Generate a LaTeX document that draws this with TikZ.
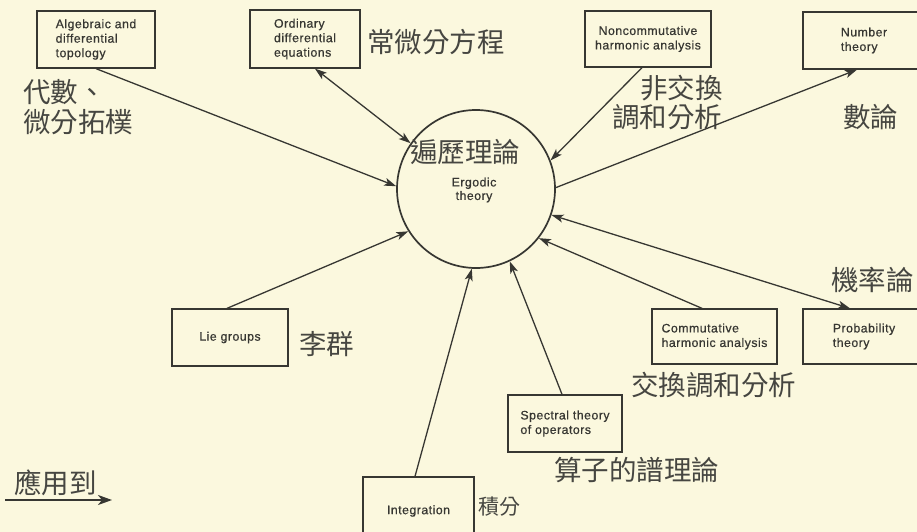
\documentclass[tikz,border=0pt]{standalone}
\usepackage{fontspec}
\setmainfont{Liberation Sans}[LetterSpace=4,FakeBold=0.6]
\newfontfamily\cjk{Noto Sans CJK TC}
\usetikzlibrary{arrows.meta,calc}
\definecolor{bgc}{RGB}{251,248,222}
\definecolor{ink}{RGB}{55,55,50}
\definecolor{cjkink}{RGB}{70,70,65}
\begin{document}
\begin{tikzpicture}[x=1pt,y=-1pt,
  box/.style={draw=ink, line width=1.3pt, inner sep=0pt, align=left, font=\fontsize{12.3}{14.5}\selectfont, text=ink},
  zh/.style={font=\cjk\fontsize{27.5}{30}\selectfont, text=cjkink, inner sep=0pt, anchor=west},
  tip/.tip={Stealth[length=12pt,width=8pt,inset=3pt]},
  arr/.style={draw=ink, line width=1.3pt, -tip},
  darr/.style={draw=ink, line width=1.3pt, tip-tip}]
\fill[bgc] (0,0) rectangle (917,532);
\clip (0,0) rectangle (917,532);
% centre
\node[circle, draw=ink, line width=1.7pt, minimum size=158pt, inner sep=0pt] (erg) at (476,189) {};
\node[zh] (ergzh) at (410,152) {遍歷理論};
\node[align=center, font=\fontsize{12.3}{13.5}\selectfont, text=ink] (ergen) at (474,190) {Ergodic\\theory};
% boxes
\node[box, minimum width=118pt, minimum height=57pt] (A) at (96,39.5) {Algebraic and\\differential\\topology};
\node[box, minimum width=110pt, minimum height=58pt] (B) at (305,39) {Ordinary\\differential\\equations};
\node[box, minimum width=126pt, minimum height=56pt, align=center] (C) at (648,39) {Noncommutative\\harmonic analysis};
\node[box, minimum width=122pt, minimum height=57pt] (D) at (864,40.5) {Number\\theory};
\node[box, minimum width=116pt, minimum height=57pt] (Lie) at (230,337.5) {Lie groups};
\node[box, minimum width=125pt, minimum height=55pt] (Comm) at (714.5,336.5) {Commutative\\harmonic analysis};
\node[box, minimum width=122pt, minimum height=55pt] (Prob) at (864,336.5) {Probability\\theory};
\node[box, minimum width=114pt, minimum height=57pt] (Spec) at (565,423.5) {Spectral theory\\of operators};
\node[box, minimum width=111pt, minimum height=68pt] (Int) at (418.5,511) {Integration};
% Chinese labels
\node[zh] (zhA1) at (23,92) {代數、};
\node[zh] (zhA2) at (23,122) {微分拓樸};
\node[zh] (zhB) at (367,42) {常微分方程};
\node[zh] (zhC1) at (640,88) {非交換};
\node[zh] (zhC2) at (612,117) {調和分析};
\node[zh] (zhD) at (843,117) {數論};
\node[zh] (zhP) at (831,280) {機率論};
\node[zh] (zhL) at (299,344) {李群};
\node[zh] (zhCo) at (631,385) {交換調和分析};
\node[zh] (zhS) at (554,470) {算子的譜理論};
\node[zh, font=\cjk\fontsize{21}{24}\selectfont] (zhI) at (478,507) {積分};
\node[zh] (leg) at (14,483) {應用到};
\coordinate (l1) at (5,500);
\coordinate (l2) at (112,500);
\draw[draw=ink, line width=2pt, -{Stealth[length=14pt,width=10pt,inset=4pt]}] (l1) -- (l2);
% connectors
\draw[arr] (A.south) -- (erg.178.5);
\draw[darr] ([xshift=10pt]B.south) -- (erg.145.4);
\draw[arr] ([xshift=-6pt]C.south) -- (erg.21.4);
\draw[arr] (erg.1.5) -- ([xshift=-7pt]D.south);
\draw[darr] ([xshift=-14pt]Prob.north) -- (erg.-19.4);
\draw[arr] ([xshift=-12.5pt]Comm.north) -- (erg.-38.3);
\draw[arr] ([xshift=-3pt]Spec.north) -- (erg.-65);
\draw[arr] ([xshift=-3.5pt]Int.north) -- (erg.-93);
\draw[arr] ([xshift=-3pt]Lie.north) -- (erg.-148);
\end{tikzpicture}
\end{document}
